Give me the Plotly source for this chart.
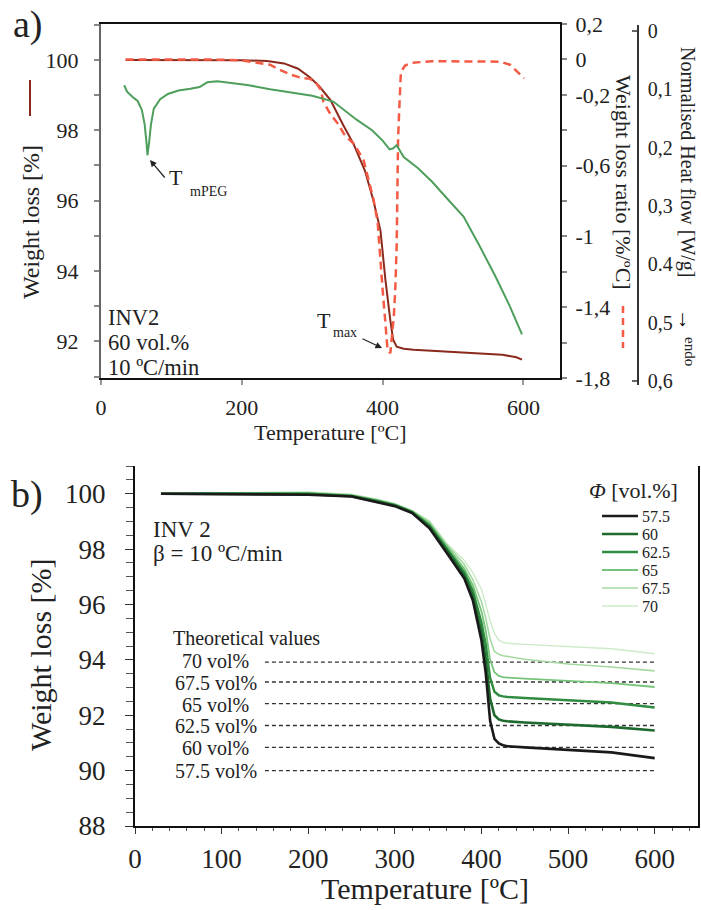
import plotly.graph_objects as go

# ---------------- panel a: TGA / DTG / DSC of INV2 (60 vol.%) ----------------
temp_wl = [35, 100, 150, 200, 236, 260, 280, 297, 310, 326, 344, 359, 375, 387, 397,
           404, 411, 415, 420, 430, 444, 480, 538, 570, 590, 598]
weight_wl = [100.0, 100.0, 100.0, 99.99, 99.97, 99.9, 99.75, 99.5, 99.25, 98.86, 98.15,
             97.6, 96.85, 96.0, 95.15, 93.75, 92.6, 92.05, 91.85, 91.79, 91.76, 91.72,
             91.67, 91.62, 91.55, 91.48]

temp_dtg = [35, 100, 150, 200, 240, 255, 269, 285, 297, 305, 312, 316, 326, 336, 345,
            352, 360, 373, 387, 393, 397, 400, 404, 407, 411, 414, 416, 418, 420, 421,
            422, 424, 426, 432, 440, 470, 540, 567, 581, 591, 601]
ratio_dtg = [0.0, 0.0, 0.0, -0.005, -0.03, -0.06, -0.085, -0.105, -0.11, -0.13, -0.17,
             -0.24, -0.31, -0.36, -0.42, -0.45, -0.48, -0.57, -0.79, -0.92, -1.15, -1.30,
             -1.49, -1.64, -1.66, -1.55, -1.45, -1.30, -1.05, -0.75, -0.45, -0.25, -0.07,
             -0.035, -0.02, -0.01, -0.01, -0.013, -0.03, -0.07, -0.107]

temp_hf = [33, 37, 45, 52, 58, 62, 64.5, 66, 68, 71, 75, 84, 95, 110, 127, 140, 151, 165,
           185, 210, 240, 270, 300, 330, 363, 385, 400, 410, 415, 420, 425, 430, 450, 470,
           490, 515, 538, 560, 580, 598]
heat_flow = [0.093, 0.104, 0.113, 0.120, 0.135, 0.160, 0.190, 0.213, 0.195, 0.160, 0.133,
             0.117, 0.108, 0.102, 0.099, 0.096, 0.088, 0.086, 0.089, 0.093, 0.100, 0.105,
             0.111, 0.121, 0.152, 0.170, 0.188, 0.203, 0.201, 0.196, 0.206, 0.216, 0.235,
             0.258, 0.285, 0.318, 0.369, 0.42, 0.47, 0.52]

wl_ticks = [91, 92, 93, 94, 95, 96, 97, 98, 99, 100, 101]
wl_text = ["", "92", "", "94", "", "96", "", "98", "", "100", ""]
ratio_ticks = [0.2, 0.0, -0.2, -0.4, -0.6, -0.8, -1.0, -1.2, -1.4, -1.6, -1.8]
ratio_text = ["0,2", "0", "-0,2", "", "-0,6", "", "-1", "", "-1,4", "", "-1,8"]
hf_ticks = [0, 0.1, 0.2, 0.3, 0.4, 0.5, 0.6]
hf_text = ["0", "0,1", "0,2", "0,3", "0.4", "0,5", "0,6"]

# ---------------- panel b: TGA of INV 2 at several filler fractions ----------------
temp_b = [30, 100, 200, 250, 280, 300, 320, 340, 360, 380, 390, 400, 405, 410, 415, 420,
          425, 430, 450, 500, 550, 600]
fractions = ["57.5", "60", "62.5", "65", "67.5", "70"]
w_57_5 = [100.0, 99.98, 99.96, 99.9, 99.7, 99.55, 99.3, 98.75, 97.86, 96.95, 96.15, 94.7,
          93.5, 91.8, 91.15, 90.98, 90.92, 90.88, 90.84, 90.75, 90.66, 90.45]
w_60 = [100.0, 99.99, 99.98, 99.91, 99.72, 99.57, 99.32, 98.8, 97.95, 97.05, 96.3, 95.0,
        94.0, 92.6, 92.0, 91.85, 91.8, 91.78, 91.74, 91.66, 91.58, 91.45]
w_62_5 = [100.0, 100.0, 100.0, 99.92, 99.74, 99.59, 99.34, 98.86, 98.03, 97.17, 96.5, 95.35,
          94.55, 93.35, 92.85, 92.72, 92.68, 92.66, 92.62, 92.55, 92.46, 92.28]
w_65 = [100.0, 100.02, 100.02, 99.94, 99.76, 99.61, 99.36, 98.92, 98.1, 97.3, 96.7, 95.75,
        95.05, 94.0, 93.55, 93.42, 93.38, 93.36, 93.32, 93.25, 93.16, 93.02]
w_67_5 = [100.0, 100.03, 100.04, 99.96, 99.78, 99.63, 99.38, 98.98, 98.16, 97.45, 96.9,
          96.1, 95.5, 94.75, 94.3, 94.2, 94.15, 94.12, 94.02, 93.85, 93.74, 93.6]
w_70 = [100.0, 100.04, 100.06, 99.98, 99.8, 99.65, 99.4, 99.02, 98.2, 97.6, 97.15, 96.55,
        96.0, 95.4, 94.95, 94.72, 94.62, 94.6, 94.56, 94.48, 94.4, 94.22]
weights_b = [w_57_5, w_60, w_62_5, w_65, w_67_5, w_70]

theo_labels = ["70 vol%", "67.5 vol%", "65 vol%", "62.5 vol%", "60 vol%", "57.5 vol%"]
theo_values = [93.92, 93.2, 92.42, 91.63, 90.84, 90.0]
theo_span = [150, 600]

# ---------------- styling ----------------
W, H = 701, 910
SERIF = "Liberation Serif"
INK = "#222222"
BROWN = "#8B2A1C"
CORAL = "#F45A44"
GREEN = "#4E9E5C"
series_colors = ["#1A1A1A", "#1E6A2E", "#2F8C40", "#76C47A", "#A5D9A1", "#CDEBC8"]
series_widths = [2.6, 2.6, 2.4, 1.8, 1.6, 1.4]


def px(x):
    return x / W


def py(y):
    return 1 - y / H


fig = go.Figure()

fig.add_trace(go.Scatter(x=temp_wl, y=weight_wl, mode="lines",
                         line=dict(color=BROWN, width=2), xaxis="x", yaxis="y"))
fig.add_trace(go.Scatter(x=temp_dtg, y=ratio_dtg, mode="lines",
                         line=dict(color=CORAL, width=2.5, dash="8px,5px"),
                         xaxis="x", yaxis="y2"))
fig.add_trace(go.Scatter(x=temp_hf, y=heat_flow, mode="lines",
                         line=dict(color=GREEN, width=2), xaxis="x", yaxis="y3"))

for lbl, val in zip(theo_labels, theo_values):
    fig.add_trace(go.Scatter(x=theo_span, y=[val, val], mode="lines",
                             line=dict(color="#333333", width=1.3, dash="4px,3px"),
                             xaxis="x2", yaxis="y4"))

# lightest series first so the dark ones sit on top
for name, w, col, lw in reversed(list(zip(fractions, weights_b, series_colors, series_widths))):
    fig.add_trace(go.Scatter(x=temp_b, y=w, mode="lines", name=name,
                             line=dict(color=col, width=lw), xaxis="x2", yaxis="y4"))


def label(text, x, y, size, angle=0, xanchor="center", color=INK):
    return dict(text=text, x=px(x), y=py(y), xref="paper", yref="paper",
                showarrow=False, textangle=angle, xanchor=xanchor, yanchor="middle",
                font=dict(size=size, family=SERIF, color=color))


def arrow(x_head, y_head, x_tail, y_tail, width=1.2):
    return dict(text="", x=px(x_head), y=py(y_head), xref="paper", yref="paper",
                ax=x_tail - x_head, ay=y_tail - y_head, showarrow=True,
                arrowhead=2, arrowsize=1.1, arrowwidth=width, arrowcolor=INK, standoff=0)


annotations = [
    # panel a
    label("a)", 28, 24, 38),
    label("Weight loss [%]", 31, 222, 24, angle=-90),
    label("Temperature [ºC]", 330, 432, 22),
    label("Weight loss ratio [%/ºC]", 623, 182, 22, angle=90),
    label("Normalised Heat flow [W/g]", 688, 162, 20, angle=90),
    label("<b>→</b>", 687, 320, 22, angle=90, color="#000000"),
    label("endo", 690, 351, 15, angle=90),
    label("INV2", 106, 317, 22.5, xanchor="left"),
    label("60 vol.%", 106, 342, 22.5, xanchor="left"),
    label("10 ºC/min", 106, 367, 22.5, xanchor="left"),
    label("T", 176, 178, 22),
    label("mPEG", 208, 191, 14),
    arrow(150, 160, 166, 179),
    label("T", 324, 320, 22),
    label("max", 345, 332, 14),
    arrow(382, 348, 361, 338),
    # panel b
    label("b)", 27, 495, 38),
    label("Weight loss [%]", 40, 655, 30, angle=-90),
    label("Temperature [ºC]", 425, 888, 30),
    label("INV 2", 151, 529, 23, xanchor="left"),
    label("β = 10 ºC/min", 151, 553, 23, xanchor="left"),
    label("Theoretical values", 171, 638, 20, xanchor="left"),
    label("<i>Φ</i> [vol.%]", 633, 490, 22),
]
for i, lbl in enumerate(theo_labels):
    y_lbl = [661, 683, 705, 726, 748, 771][i]
    annotations.append(label(lbl, 216, y_lbl, 20))

shapes = [
    # line key next to the left title
    dict(type="line", xref="paper", yref="paper", x0=px(30), x1=px(30),
         y0=py(80), y1=py(116), line=dict(color=BROWN, width=2)),
    # dashed key under the ratio title
    dict(type="line", xref="paper", yref="paper", x0=px(623), x1=px(623),
         y0=py(306), y1=py(348), line=dict(color=CORAL, width=2.5, dash="7px,5px")),
    # bracket ends of the heat-flow axis
    dict(type="line", xref="paper", yref="y3", x0=px(632), x1=px(638), y0=0, y1=0,
         line=dict(color="#333333", width=1.5)),
    dict(type="line", xref="paper", yref="y3", x0=px(632), x1=px(638), y0=0.6, y1=0.6,
         line=dict(color="#333333", width=1.5)),
]

# key for panel b
for i, (name, col, lw) in enumerate(zip(fractions, series_colors, series_widths)):
    yk = 516 + 18 * i
    shapes.append(dict(type="line", xref="paper", yref="paper", x0=px(602), x1=px(638),
                       y0=py(yk), y1=py(yk), line=dict(color=col, width=lw)))
    annotations.append(label(name, 640, yk, 16, xanchor="left"))

axis_common = dict(showgrid=False, zeroline=False, ticks="outside", automargin=False)

fig.update_layout(
    width=W, height=H, margin=dict(l=0, r=0, t=0, b=0, autoexpand=False),
    paper_bgcolor="white", plot_bgcolor="rgba(0,0,0,0)", showlegend=False,
    font=dict(family=SERIF, color=INK),
    xaxis=dict(axis_common, domain=[px(101), px(560)], range=[0, 652], anchor="y",
               tickvals=[0, 200, 400, 600], ticklen=5, tickcolor="#999999", tickwidth=1.5,
               showline=True, linecolor="#111111", linewidth=2, mirror=True,
               tickfont=dict(family=SERIF, color=INK, size=22), ticklabelstandoff=4),
    yaxis=dict(axis_common, domain=[py(378), py(24)], range=[90.96, 101.02], anchor="x",
               tickvals=wl_ticks, ticktext=wl_text, ticklen=5, tickcolor="#888888",
               tickwidth=1.5, showline=True, linecolor="#666666", linewidth=2,
               tickfont=dict(family=SERIF, color=INK, size=22), ticklabelstandoff=11),
    yaxis2=dict(axis_common, overlaying="y", side="right", anchor="x", range=[-1.8, 0.2],
                tickvals=ratio_ticks, ticktext=ratio_text, ticklen=5, tickcolor="#888888",
                tickwidth=1.5, showline=True, linecolor="#111111", linewidth=2,
                tickfont=dict(family=SERIF, color=INK, size=22), ticklabelstandoff=4),
    yaxis3=dict(showgrid=False, zeroline=False, automargin=False, domain=[py(385), py(25)],
                anchor="free", position=px(638), side="right", range=[0.6069, -0.0103],
                tickvals=hf_ticks, ticktext=hf_text, ticks="", showline=True,
                linecolor="#333333", linewidth=1.5,
                tickfont=dict(family=SERIF, color=INK, size=20), ticklabelstandoff=5),
    xaxis2=dict(axis_common, domain=[px(135), px(698)], range=[0, 650], anchor="y4",
                tick0=0, dtick=100, ticklen=6, tickcolor="#333333", tickwidth=1,
                minor=dict(dtick=20, ticks="outside", ticklen=3, tickcolor="#555555"),
                showline=True, linecolor="#111111", linewidth=2,
                tickfont=dict(family=SERIF, color=INK, size=27), ticklabelstandoff=2),
    yaxis4=dict(axis_common, domain=[py(826), py(466)], range=[88, 101], anchor="x2",
                tick0=88, dtick=2, ticklen=8, tickcolor="#333333", tickwidth=1,
                minor=dict(dtick=0.5, ticks="outside", ticklen=7, tickcolor="#555555"),
                showline=True, linecolor="#111111", linewidth=2, mirror=True,
                tickfont=dict(family=SERIF, color=INK, size=27), ticklabelstandoff=14),
    annotations=annotations,
    shapes=shapes,
)

fig.write_html("out.html")
